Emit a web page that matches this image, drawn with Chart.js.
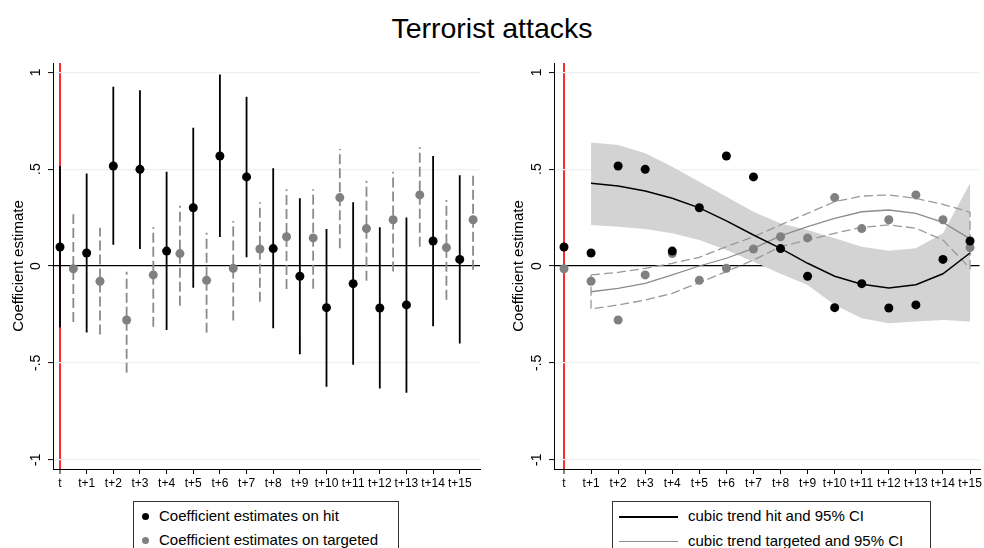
<!DOCTYPE html>
<html>
<head>
<meta charset="utf-8">
<script src="https://cdn.jsdelivr.net/npm/chart.js@4/dist/chart.umd.min.js"></script>
<style>
  html, body { margin: 0; padding: 0; background: #fff; }
  body { width: 984px; height: 548px; overflow: hidden; position: relative; font-family: "Liberation Sans", Arial, sans-serif; }
  #title { position: absolute; left: 0; top: 12px; width: 984px; text-align: center; font-size: 28.5px; color: #000; }
  canvas { position: absolute; }
  .legend { position: absolute; top: 501px; height: 60px; border: 1px solid #333; box-sizing: border-box; background: #fff; }
  .row { position: absolute; font-size: 15px; color: #000; white-space: nowrap; line-height: 18px; }
  .dot { position: absolute; width: 7px; height: 7px; border-radius: 50%; }
  .seg { position: absolute; height: 0; }
</style>
</head>
<body>
<div id="title">Terrorist attacks</div>
<canvas id="left" width="490" height="470" style="left:0;top:40px"></canvas>
<canvas id="right" width="484" height="470" style="left:500px;top:40px"></canvas>

<div class="legend" style="left:133px;width:266px">
  <span class="dot" style="left:8px;top:11px;background:#000"></span>
  <span class="row" style="left:25px;top:5px">Coefficient estimates on hit</span>
  <span class="dot" style="left:8px;top:35px;background:#808080"></span>
  <span class="row" style="left:25px;top:29px">Coefficient estimates on targeted</span>
</div>
<div class="legend" style="left:612px;width:319px">
  <span class="seg" style="left:6px;width:59px;top:14px;border-top:2px solid #000"></span>
  <span class="row" style="left:75px;top:5px">cubic trend hit and 95% CI</span>
  <span class="seg" style="left:6px;width:59px;top:39px;border-top:1px solid #8c8c8c"></span>
  <span class="row" style="left:75px;top:30px">cubic trend targeted and 95% CI</span>
</div>

<script>
// event time labels
const periods = ['t', 't+1', 't+2', 't+3', 't+4', 't+5', 't+6', 't+7', 't+8', 't+9', 't+10', 't+11', 't+12', 't+13', 't+14', 't+15'];
const yTicks = [-1, -0.5, 0, 0.5, 1];
const yTickLabels = ['-1', '-.5', '0', '.5', '1'];

// left panel: coefficient estimates on hit, with 95% CI
const hitEst = [0.098, 0.067, 0.516, 0.499, 0.077, 0.301, 0.568, 0.46, 0.09, -0.053, -0.215, -0.091, -0.217, -0.201, 0.129, 0.034];
const hitLo = [-0.318, -0.343, 0.11, 0.088, -0.33, -0.112, 0.15, 0.045, -0.322, -0.456, -0.623, -0.51, -0.633, -0.654, -0.311, -0.4];
const hitHi = [0.516, 0.478, 0.926, 0.907, 0.487, 0.714, 0.988, 0.874, 0.504, 0.35, 0.191, 0.329, 0.2, 0.251, 0.568, 0.468];

// left panel: coefficient estimates on targeted, with 95% CI
const tgtEst = [-0.014, -0.079, -0.279, -0.046, 0.064, -0.074, -0.012, 0.088, 0.151, 0.145, 0.353, 0.193, 0.239, 0.367, 0.095, 0.239];
const tgtLo = [-0.289, -0.353, -0.551, -0.313, -0.205, -0.344, -0.282, -0.184, -0.119, -0.117, 0.091, -0.076, -0.029, 0.1, -0.174, -0.02];
const tgtHi = [0.267, 0.198, -0.03, 0.201, 0.311, 0.172, 0.232, 0.329, 0.396, 0.396, 0.604, 0.44, 0.487, 0.614, 0.341, 0.487];

// right panel: points as plotted there (last two periods appear in other order)
const hitPts = [0.098, 0.067, 0.516, 0.499, 0.077, 0.301, 0.568, 0.46, 0.09, -0.053, -0.215, -0.091, -0.217, -0.201, 0.034, 0.129];
const tgtPts = [-0.014, -0.079, -0.279, -0.046, 0.064, -0.074, -0.012, 0.088, 0.151, 0.145, 0.353, 0.193, 0.239, 0.367, 0.239, 0.095];

// cubic trends (t+1 .. t+15)
const hitFit = [null, 0.427, 0.413, 0.387, 0.35, 0.30, 0.233, 0.16, 0.091, 0.014, -0.053, -0.094, -0.113, -0.097, -0.04, 0.067];
const hitFitLo = [null, 0.212, 0.203, 0.191, 0.169, 0.134, 0.083, 0.022, -0.04, -0.098, -0.201, -0.27, -0.296, -0.287, -0.279, -0.287];
const hitFitHi = [null, 0.638, 0.625, 0.582, 0.513, 0.435, 0.358, 0.28, 0.22, 0.186, 0.143, 0.1, 0.079, 0.091, 0.169, 0.427];
const tgtFit = [null, -0.133, -0.115, -0.09, -0.046, 0.0, 0.04, 0.091, 0.155, 0.203, 0.246, 0.28, 0.289, 0.272, 0.225, 0.14];
const tgtFitLo = [null, -0.222, -0.201, -0.176, -0.141, -0.086, -0.029, 0.031, 0.1, 0.134, 0.169, 0.2, 0.212, 0.195, 0.134, -0.012];
const tgtFitHi = [null, -0.046, -0.033, -0.012, 0.014, 0.045, 0.1, 0.151, 0.212, 0.272, 0.332, 0.361, 0.367, 0.349, 0.318, 0.278];

const FONT = '"Liberation Sans", Arial, sans-serif';

// rotated y tick labels, like Stata
const rotatedYLabels = {
  id: 'rotatedYLabels',
  afterDraw(chart) {
    const ctx = chart.ctx;
    const y = chart.scales.y;
    ctx.save();
    ctx.fillStyle = '#000';
    ctx.font = '14px ' + FONT;
    ctx.textAlign = 'center';
    ctx.textBaseline = 'middle';
    yTicks.forEach((v, i) => {
      ctx.save();
      ctx.translate(chart.chartArea.left - 17, y.getPixelForValue(v));
      ctx.rotate(-Math.PI / 2);
      ctx.fillText(yTickLabels[i], 0, 0);
      ctx.restore();
    });
    ctx.restore();
  }
};

function ciSegments(xs, lo, hi) {
  const out = [];
  xs.forEach((x, i) => {
    out.push({x: x, y: lo[i]}, {x: x, y: hi[i]}, {x: x, y: null});
  });
  return out;
}

function trend(vals) {
  const out = [];
  vals.forEach((v, i) => { if (v !== null) out.push({x: i, y: v}); });
  return out;
}

function makeOptions(xMin, xMax, yWidth, padRight) {
  return {
    responsive: false,
    animation: false,
    devicePixelRatio: 1,
    layout: {padding: {top: 23, right: padRight, left: 0, bottom: 0}},
    plugins: {legend: {display: false}, tooltip: {enabled: false}},
    scales: {
      x: {
        type: 'linear',
        min: xMin,
        max: xMax,
        afterBuildTicks: s => { s.ticks = periods.map((_, i) => ({value: i})); },
        afterFit: s => { s.height = 41; },
        ticks: {
          color: '#000',
          font: {family: FONT, size: 12},
          padding: 2,
          maxRotation: 0,
          autoSkip: false,
          callback: v => periods[v]
        },
        grid: {
          color: c => (c.tick && c.tick.value === 0) ? '#ff2a2a' : 'rgba(0,0,0,0)',
          lineWidth: c => (c.tick && c.tick.value === 0) ? 2 : 1,
          tickColor: '#000',
          tickWidth: 1,
          tickLength: 5
        },
        border: {display: true, color: '#000', width: 1}
      },
      y: {
        min: -1.048,
        max: 1.048,
        afterBuildTicks: s => { s.ticks = yTicks.map(v => ({value: v})); },
        afterFit: s => { s.width = yWidth; },
        ticks: {display: false},
        title: {
          display: true,
          text: 'Coefficient estimate',
          color: '#000',
          font: {family: FONT, size: 15},
          padding: {top: 10, bottom: 0}
        },
        grid: {
          color: c => (c.tick && c.tick.value === 0) ? '#000' : '#eaf2f3',
          lineWidth: 1.2,
          tickColor: '#000',
          tickWidth: 1,
          tickLength: 5
        },
        border: {display: true, color: '#000', width: 1}
      }
    }
  };
}

const idx = periods.map((_, i) => i);
const idxShift = periods.map((_, i) => i + 0.5);

// left panel: estimates with CIs, targeted shifted by half a period
new Chart(document.getElementById('left'), {
  type: 'line',
  data: {
    datasets: [
      {data: idx.map((x, i) => ({x: x, y: hitEst[i]})), showLine: false, pointRadius: 4.5, pointBackgroundColor: '#000', pointBorderColor: '#000', pointBorderWidth: 0},
      {data: idxShift.map((x, i) => ({x: x, y: tgtEst[i]})), showLine: false, pointRadius: 4.5, pointBackgroundColor: '#808080', pointBorderColor: '#808080', pointBorderWidth: 0},
      {data: ciSegments(idx, hitLo, hitHi), borderColor: '#000', borderWidth: 1.8, pointRadius: 0, spanGaps: false, tension: 0},
      {data: ciSegments(idxShift, tgtLo, tgtHi), borderColor: '#8a8a8a', borderWidth: 1.8, borderDash: [10, 4], pointRadius: 0, spanGaps: false, tension: 0}
    ]
  },
  options: makeOptions(-0.263, 15.76, 53, 10),
  plugins: [rotatedYLabels]
});

// right panel: estimates with cubic trends
const tgtOutline = trend(tgtFitHi).concat(trend(tgtFitLo).reverse(), trend(tgtFitHi).slice(0, 1));

new Chart(document.getElementById('right'), {
  type: 'line',
  data: {
    datasets: [
      {data: idx.map((x, i) => ({x: x, y: hitPts[i]})), showLine: false, pointRadius: 4.5, pointBackgroundColor: '#000', pointBorderColor: '#000', pointBorderWidth: 0},
      {data: idx.map((x, i) => ({x: x, y: tgtPts[i]})), showLine: false, pointRadius: 4.5, pointBackgroundColor: '#808080', pointBorderColor: '#808080', pointBorderWidth: 0},
      {data: trend(hitFit), borderColor: '#000', borderWidth: 1.5, pointRadius: 0, tension: 0},
      {data: trend(tgtFit), borderColor: '#8c8c8c', borderWidth: 1.3, pointRadius: 0, tension: 0},
      {data: tgtOutline, borderColor: '#999', borderWidth: 1.3, borderDash: [9, 4], pointRadius: 0, tension: 0},
      {data: trend(hitFitHi), borderWidth: 0, pointRadius: 0, tension: 0, fill: {target: 6}, backgroundColor: '#d3d3d3'},
      {data: trend(hitFitLo), borderWidth: 0, pointRadius: 0, tension: 0, fill: false}
    ]
  },
  options: makeOptions(-0.369, 15.35, 54, 4),
  plugins: [rotatedYLabels]
});
</script>
</body>
</html>
